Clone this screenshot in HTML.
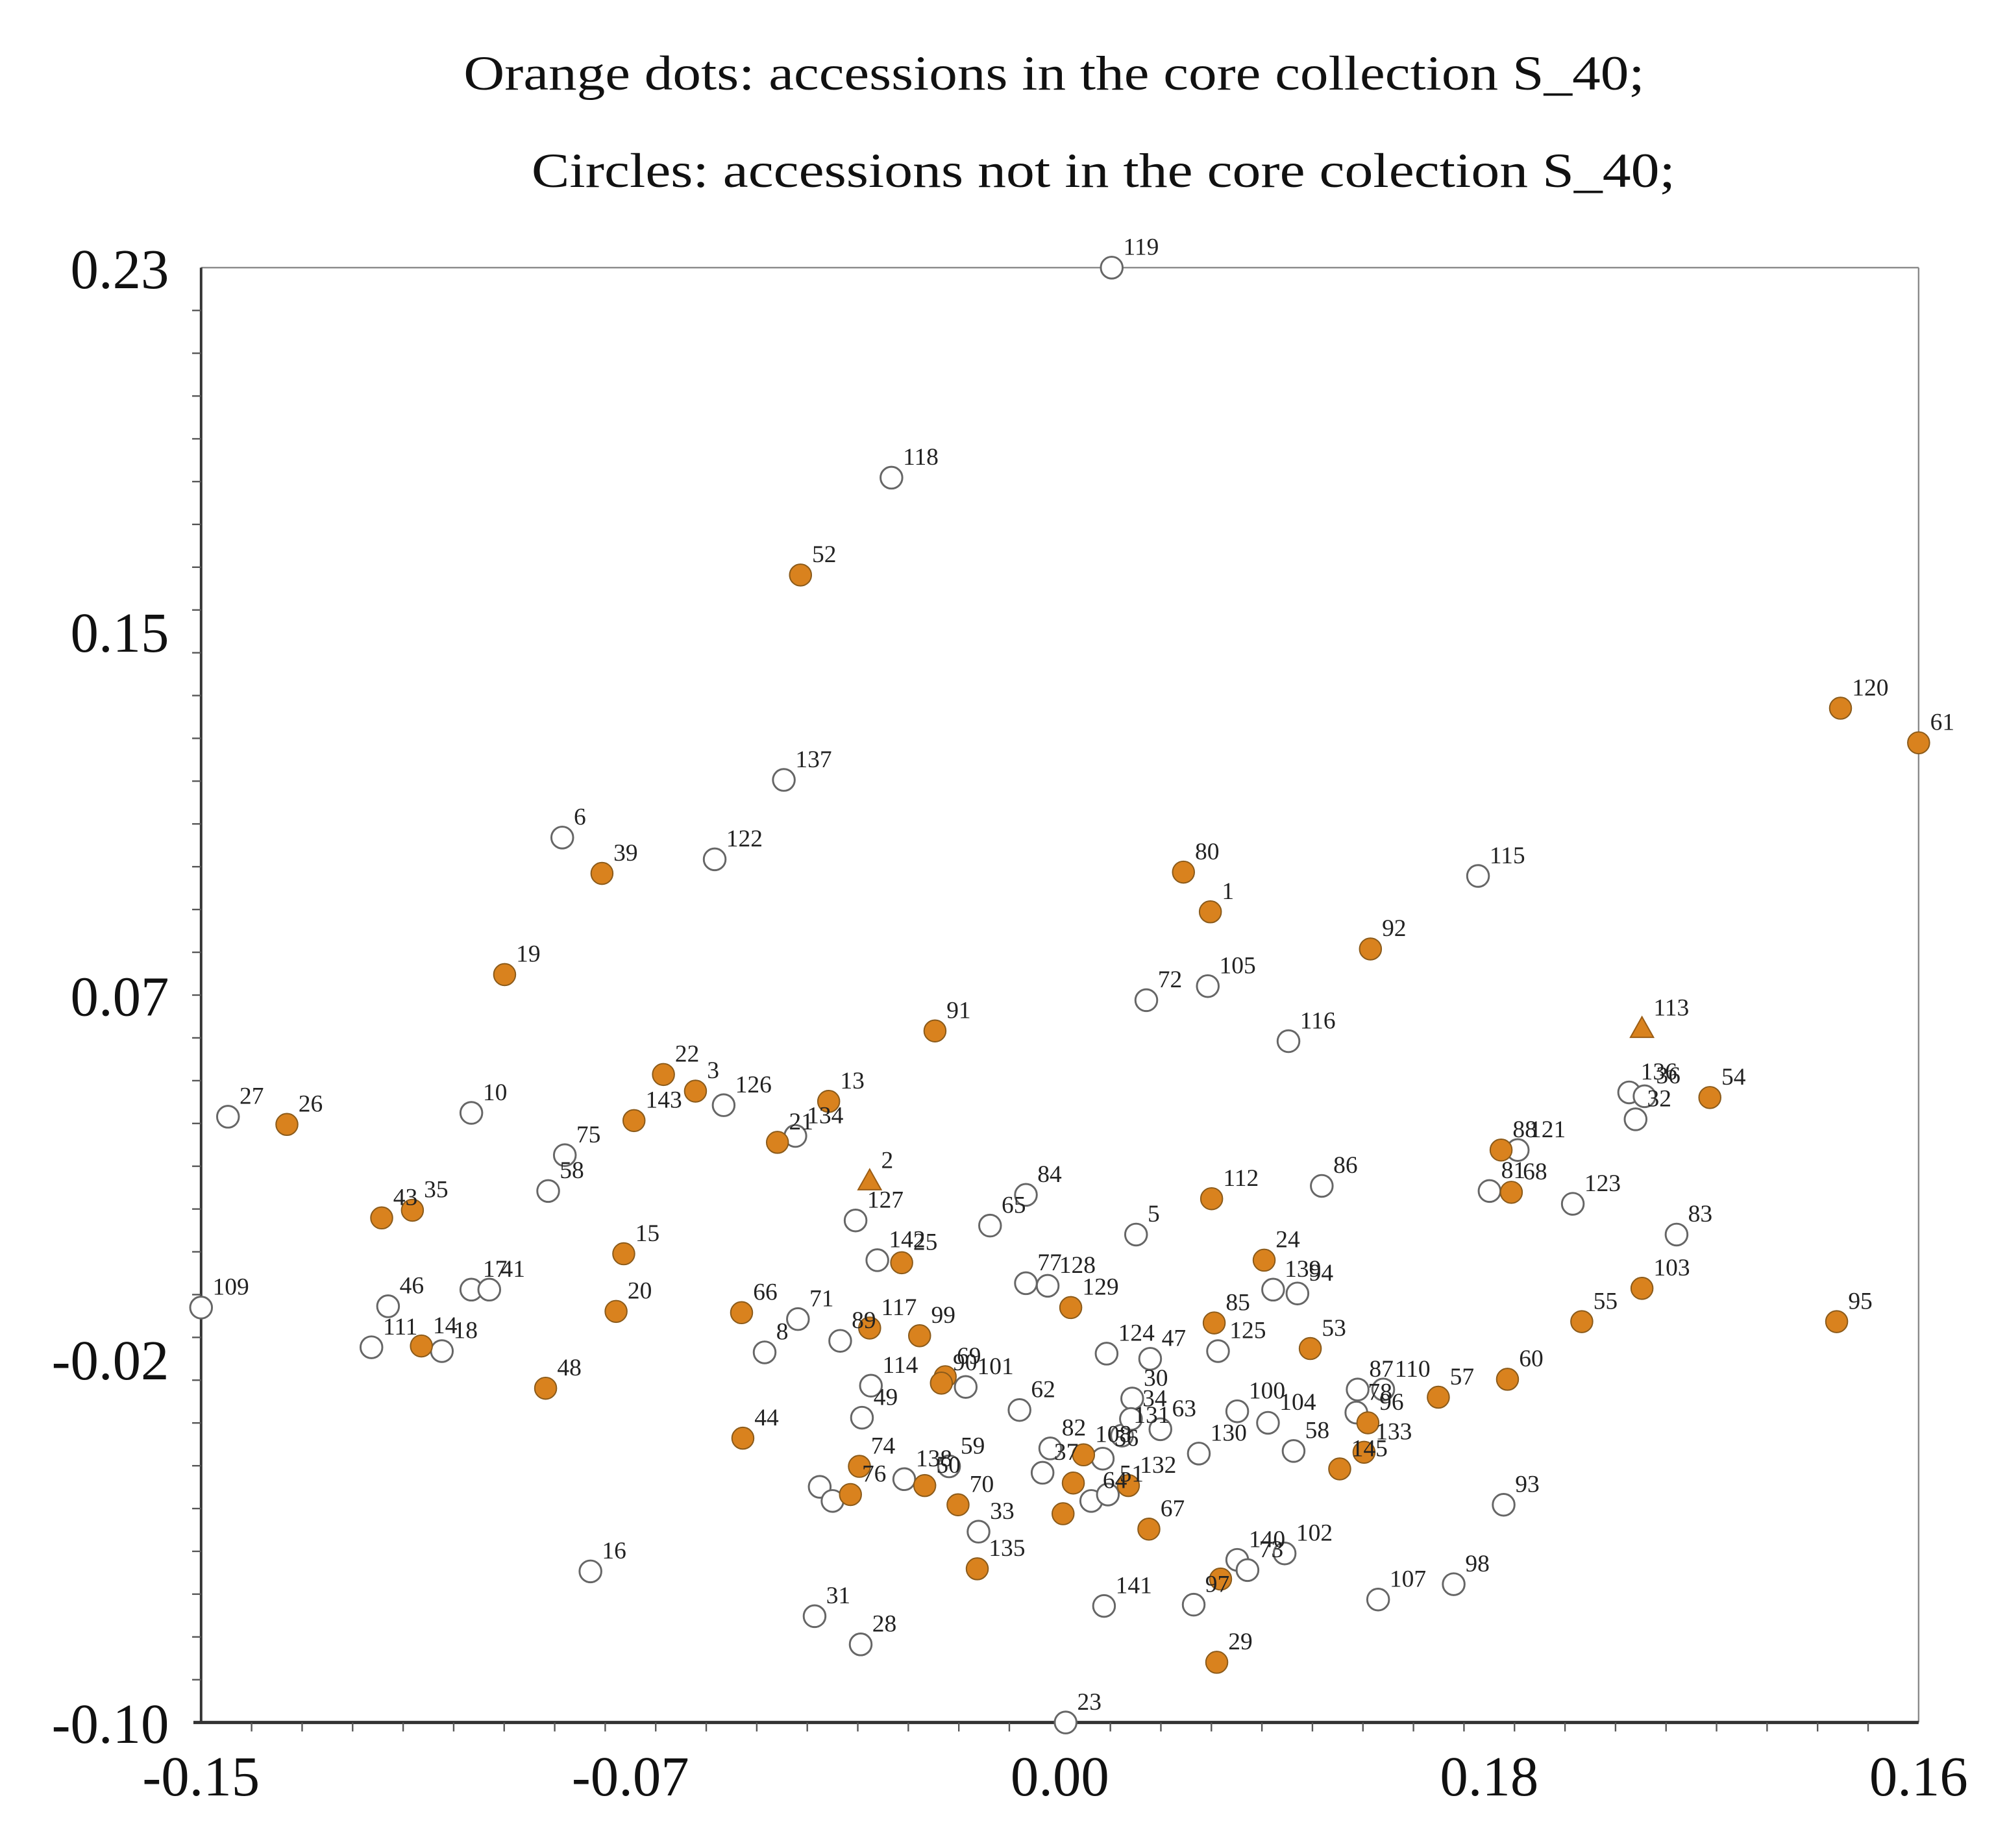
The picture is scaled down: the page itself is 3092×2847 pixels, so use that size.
<!DOCTYPE html>
<html><head><meta charset="utf-8"><style>
html,body{margin:0;padding:0;background:#fff;}
svg{display:block;}
</style></head><body>
<svg id="chart" width="3092" height="2847" viewBox="0 0 1567 1443" preserveAspectRatio="none" xmlns="http://www.w3.org/2000/svg" font-family="'Liberation Serif', serif">
<rect x="0" y="0" width="1567" height="1443" fill="#fff"/>
<text x="362" y="70" font-size="38" textLength="922" lengthAdjust="spacingAndGlyphs" fill="#111">Orange dots: accessions in the core collection S_40;</text>
<text x="415" y="146" font-size="38" textLength="893" lengthAdjust="spacingAndGlyphs" fill="#111">Circles: accessions not in the core colection S_40;</text>
<g id="frame"></g>
<g id="ticks"></g>
<g id="points"></g>
</svg>
<script>
// Data (scores in arbitrary PC units; x domain 0..134.1, y domain 0..113.6)
const labels = ['119','118','52','137','6','39','122','19','80','1','115','92','72','105','116','91','120','61','113','136','36','32','54','27','26','10','22','3','126','143','13','21','134','75','58','43','35','2','127','84','65','5','112','86','88','121','81','68','123','83','15','142','25','24','139','94','77','128','129','85','125','103','55','95','109','46','17','41','111','14','18','20','66','71','8','89','117','99','53','124','47','60','57','87','110','78','96','133','48','114','69','90','101','62','30','63','100','104','58','49','44','82','108','56','131','34','130','74','76','138','50','59','70','37','64','51','132','','','33','67','135','16','31','28','141','97','','140','73','102','29','23','107','98','93','145','',''];
const xs = [71.1,53.9,46.8,45.5,28.2,31.3,40.1,23.7,76.7,78.8,99.7,91.3,73.8,78.6,84.9,57.3,128.0,134.1,112.5,111.5,112.7,112.0,117.8,2.1,6.7,21.1,36.1,38.6,40.8,33.8,49.0,45.0,46.4,28.4,27.1,14.1,16.5,52.2,51.1,64.4,61.6,73.0,78.9,87.5,101.5,102.8,100.6,102.3,107.1,115.2,33.0,52.8,54.7,83.0,83.7,85.6,64.4,66.1,67.9,79.1,79.4,112.5,107.8,127.7,0,14.6,21.1,22.5,13.3,17.2,18.8,32.4,42.2,46.6,44.0,49.9,52.2,56.1,86.6,70.7,74.1,102.0,96.6,90.3,92.3,90.2,91.1,90.8,26.9,52.3,58.1,57.8,59.7,63.9,72.7,74.9,80.9,83.3,85.3,51.6,42.3,66.3,68.9,70.4,71.9,72.6,77.9,51.4,50.7,54.9,56.5,58.4,59.1,65.7,69.5,70.8,72.4,68.1,67.3,60.7,74.0,60.6,30.4,47.9,51.5,70.5,77.5,79.6,80.9,81.7,84.6,79.3,67.5,91.9,97.8,101.7,88.9,48.3,49.3];
const ys = [113.6,97.2,89.6,73.6,69.1,66.3,67.4,58.4,66.4,63.3,66.1,60.4,56.4,57.5,53.2,54.0,79.2,76.5,54.2,49.2,48.9,47.1,48.8,47.3,46.7,47.6,50.6,49.3,48.2,47.0,48.5,45.3,45.8,44.3,41.5,39.4,40.0,42.3,39.2,41.2,38.8,38.1,40.9,41.9,44.7,44.7,41.5,41.4,40.5,38.1,36.6,36.1,35.9,36.1,33.8,33.5,34.3,34.1,32.4,31.2,29.0,33.9,31.3,31.3,32.4,32.5,33.8,33.8,29.3,29.4,29.0,32.1,32.0,31.5,28.9,29.8,30.8,30.2,29.2,28.8,28.4,26.8,25.4,26.0,26.0,24.2,23.4,21.1,26.1,26.3,27.0,26.5,26.2,24.4,25.3,22.9,24.3,23.4,21.2,23.8,22.2,21.4,20.9,20.6,22.4,23.7,21.0,20.0,17.8,19.0,18.5,20.0,17.0,19.5,17.3,17.8,18.5,18.7,16.3,14.9,15.1,12.0,11.8,8.3,6.1,9.1,9.2,11.2,12.7,11.9,13.2,4.7,0,9.6,10.8,17.0,19.8,18.4,17.3];
const kinds = ['w','w','o','w','w','o','w','o','o','o','w','o','w','w','w','o','o','o','t','w','w','w','o','w','o','w','o','o','w','o','o','o','w','w','w','o','o','t','w','w','w','w','o','w','o','w','w','o','w','w','o','w','o','o','w','w','w','w','o','o','w','o','o','o','w','w','w','w','w','o','w','o','o','w','w','w','o','o','o','w','w','o','o','w','w','w','o','o','o','w','o','o','w','w','w','w','w','w','w','w','o','w','o','w','w','w','w','o','o','w','o','w','o','w','w','w','o','o','o','w','o','o','w','w','w','w','w','o','w','w','w','o','w','w','w','w','o','w','w'];
const xTickLabels = ['-0.15','-0.07','0.00','0.18','0.16'];
const yTickLabels = ['-0.10','-0.02','0.07','0.15','0.23'];
const xDomain = [0, 134.1], yDomain = [0, 113.6];

const L = 157, R = 1498, T = 209, B = 1345;
const NS = 'http://www.w3.org/2000/svg';
function sx(v){ return L + (v - xDomain[0]) / (xDomain[1] - xDomain[0]) * (R - L); }
function sy(v){ return B - (v - yDomain[0]) / (yDomain[1] - yDomain[0]) * (B - T); }
function mk(tag, attrs, parent){ const e = document.createElementNS(NS, tag); for (const k in attrs) e.setAttribute(k, attrs[k]); parent.appendChild(e); return e; }

const frame = document.getElementById('frame');
let e;
e = mk('line', {x1:L, y1:T, x2:R, y2:T, stroke:'#888', 'stroke-width':1.2}, frame);


e = mk('line', {x1:R, y1:T, x2:R, y2:B, stroke:'#888', 'stroke-width':1.2}, frame);


e = mk('line', {x1:L, y1:T, x2:L, y2:B, stroke:'#333', 'stroke-width':2}, frame);


e = mk('line', {x1:L-6, y1:B, x2:R, y2:B, stroke:'#333', 'stroke-width':2.5}, frame);



const ticks = document.getElementById('ticks');
const nMinor = 34;
for (let i = 1; i < nMinor; i++) {
  const x = L + i * (R - L) / nMinor;
  e = mk('line', {x1:x, y1:B, x2:x, y2:B+7, stroke:'#555', 'stroke-width':1.2}, ticks);
  
  
  const y = B - i * (B - T) / nMinor;
  e = mk('line', {x1:L, y1:y, x2:L-7, y2:y, stroke:'#555', 'stroke-width':1.2}, ticks);
  
  
}
xTickLabels.forEach((t, i) => {
  const x = L + i * (R - L) / (xTickLabels.length - 1);
  const tx = mk('text', {x:x, y:1402, 'font-size':44, 'text-anchor':'middle', fill:'#111'}, ticks);
  tx.textContent = t;
  
  
});
yTickLabels.forEach((t, i) => {
  const y = B - i * (B - T) / (yTickLabels.length - 1);
  const tx = mk('text', {x:132, y:y+16, 'font-size':44, 'text-anchor':'end', fill:'#111'}, ticks);
  tx.textContent = t;
  
  
});

const pts = document.getElementById('points');
const order = labels.map((_, i) => i).sort((a, b) => (kinds[a] === 'w' ? 0 : 1) - (kinds[b] === 'w' ? 0 : 1));
order.forEach(i => {
  const cx = sx(xs[i]), cy = sy(ys[i]);
  let m;
  if (kinds[i] === 't') {
    m = mk('polygon', {points:`${cx},${cy-9} ${cx-9},${cy+7} ${cx+9},${cy+7}`, fill:'#D9821E', stroke:'#9a5c14', 'stroke-width':1}, pts);
    
  } else if (kinds[i] === 'o') {
    m = mk('circle', {cx:cx, cy:cy, r:8.5, fill:'#D9821E', stroke:'#8a5a1a', 'stroke-width':1}, pts);
    
  } else {
    m = mk('circle', {cx:cx, cy:cy, r:8.5, fill:'#fff', stroke:'#666', 'stroke-width':1.5}, pts);
    
  }
  
});
labels.forEach((lab, i) => {
  if (!lab) return;
  const t = mk('text', {x:sx(xs[i]) + 9, y:sy(ys[i]) - 10, 'font-size':19, fill:'#222'}, pts);
  t.textContent = lab;
  
  
});
</script>
</body></html>
